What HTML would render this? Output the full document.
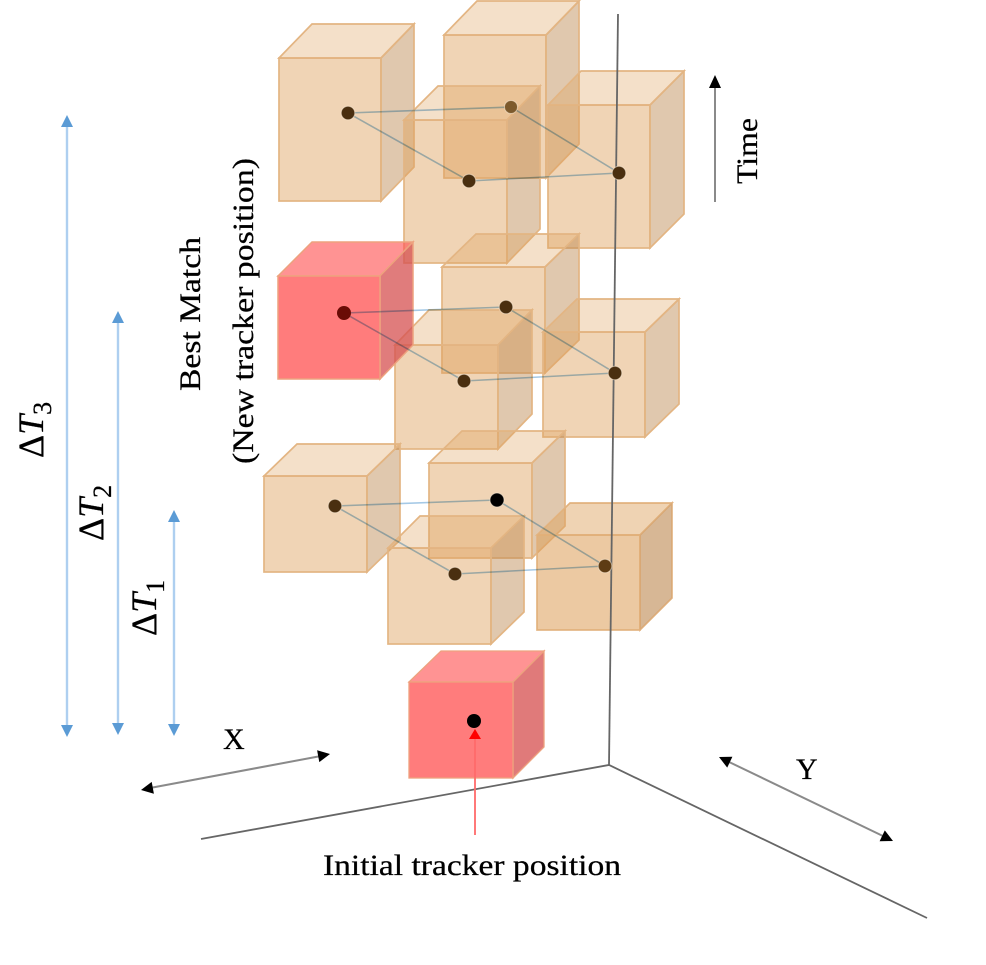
<!DOCTYPE html>
<html>
<head>
<meta charset="utf-8">
<style>
html,body{margin:0;padding:0;background:#fff}
svg{display:block;filter:blur(.35px)}
text{font-family:"Liberation Serif",serif;fill:#000;stroke:#000;stroke-width:.25}
.f{fill:rgba(222,160,90,.45);stroke:#e3b583;stroke-width:1.7}
.t{fill:rgba(222,160,90,.33);stroke:#e3b583;stroke-width:1.7}
.s{fill:rgba(186,133,75,.45);stroke:#e3b583;stroke-width:1.7}
.c{stroke:#a5c9e6;stroke-width:1.6;fill:none;mix-blend-mode:multiply}
.b{stroke:#aecff0;stroke-width:2.4}
.k{stroke:#8a8a8a;stroke-width:2}
.d{stroke:rgba(255,240,220,.55);stroke-width:1}
</style>
</head>
<body>
<svg width="986" height="965" viewBox="0 0 986 965" xmlns="http://www.w3.org/2000/svg">
<!-- top layer cubes -->
<g>
<polygon class="t" points="279,58 312,24 414,24 381,58"/><polygon class="s" points="381,58 414,24 414,167 381,201"/><rect class="f" x="279" y="58" width="102" height="143"/>
<polygon class="t" points="444,35 477,1 579,1 546,35"/><polygon class="s" points="546,35 579,1 579,144 546,178"/><rect class="f" x="444" y="35" width="102" height="143"/>
<polygon class="t" points="548,105 581,71 684,71 650,105"/><polygon class="s" points="650,105 684,71 684,214 650,248"/><rect class="f" x="548" y="105" width="102" height="143"/>
<polygon class="t" points="404,120 438,86 540,86 507,120"/><polygon class="s" points="507,120 540,86 540,229 507,263"/><rect class="f" x="404" y="120" width="103" height="143"/>
</g>
<!-- middle layer cubes -->
<g>
<polygon class="t" points="442,267 476,234 579,234 545,267"/><polygon class="s" points="545,267 579,234 579,340 545,373"/><rect class="f" x="442" y="267" width="103" height="106"/>
<polygon class="t" points="543,332 577,299 679,299 645,332"/><polygon class="s" points="645,332 679,299 679,404 645,437"/><rect class="f" x="543" y="332" width="102" height="105"/>
<polygon class="t" points="395,345 429,310 532,310 498,345"/><polygon class="s" points="498,345 532,310 532,414 498,449"/><rect class="f" x="395" y="345" width="103" height="104"/>
<polygon points="278,276 312,242 413,242 380,276" fill="rgba(255,80,80,.62)" stroke="#eda27e" stroke-width="1.5"/>
<polygon points="380,276 413,242 413,345 380,379" fill="rgba(214,80,80,.75)" stroke="#eda27e" stroke-width="1.5"/>
<rect x="278" y="276" width="102" height="103" fill="#ff7c7c" stroke="#eda27e" stroke-width="1.5"/>
</g>
<!-- bottom layer cubes -->
<g>
<polygon class="t" points="264,476 297,444 400,444 367,476"/><polygon class="s" points="367,476 400,444 400,540 367,572"/><rect class="f" x="264" y="476" width="103" height="96"/>
<polygon class="t" points="429,463 462,431 565,431 532,463"/><polygon class="s" points="532,463 565,431 565,526 532,558"/><rect class="f" x="429" y="463" width="103" height="95"/>
<polygon class="t" points="388,548 420,516 524,516 491,548"/><polygon class="s" points="491,548 524,516 524,612 491,644"/><rect class="f" x="388" y="548" width="103" height="96"/>
<polygon class="t" points="537,535 570,503 672,503 640,535"/><polygon class="s" points="640,535 672,503 672,598 640,630"/><rect class="f" x="537" y="535" width="103" height="95"/>
<polygon points="537,535 570,503 672,503 640,535" fill="rgba(222,160,90,.2)"/>
<polygon points="640,535 672,503 672,598 640,630" fill="rgba(186,133,75,.25)"/>
<rect x="537" y="535" width="103" height="95" fill="rgba(222,160,90,.2)"/>
</g>
<!-- initial red cube -->
<polygon points="409,682 441,651 544,651 513,682" fill="#ff9393" stroke="#eda27e" stroke-width="1.3"/>
<polygon points="513,682 544,651 544,747 513,778" fill="#e07a7a" stroke="#eda27e" stroke-width="1.3"/>
<rect x="409" y="682" width="104" height="96" fill="#ff7c7c" stroke="#eda27e" stroke-width="1.3"/>
<!-- axes -->
<g stroke="#666" stroke-width="1.8" fill="none">
<polyline points="618,14 609,765"/>
<polyline points="201,839 609,765 927,918"/>
</g>
<!-- connectors -->
<polygon class="c" points="348,113 511,107 619,173 469,181"/>
<polygon class="c" points="344,313 506,307 615,373 464,381"/>
<polygon class="c" points="335,506 497,500 605,566 455,574"/>
<!-- dots -->
<g fill="#4a2f10">
<circle class="d" cx="348" cy="113" r="6.8"/><circle class="d" cx="469" cy="181" r="6.8"/><circle class="d" cx="619" cy="173" r="6.8"/>
<circle class="d" cx="511" cy="107" r="6.5" fill="#7d5a2c"/>
<circle cx="344" cy="313" r="7" fill="#6a0c06"/>
<circle class="d" cx="506" cy="307" r="6.8"/><circle class="d" cx="464" cy="381" r="6.8"/><circle class="d" cx="615" cy="373" r="6.8"/>
<circle class="d" cx="335" cy="506" r="6.8"/><circle class="d" cx="497" cy="500" r="7" fill="#000"/><circle class="d" cx="455" cy="574" r="6.8"/><circle class="d" cx="605" cy="566" r="6.8" fill="#5e3c14"/>
</g>
<circle cx="474" cy="721" r="7" fill="#000"/>
<!-- red arrow -->
<line x1="475" y1="835" x2="475" y2="738" stroke="#ff6a6a" stroke-width="1.8"/>
<polygon points="475,729 481,739 469,739" fill="#f00"/>
<!-- delta arrows -->
<line class="b" x1="67" y1="125" x2="67" y2="727"/>
<polygon points="67,115 73,127 61,127" fill="#5b9bd5"/><polygon points="67,737 73,725 61,725" fill="#5b9bd5"/>
<line class="b" x1="118" y1="321" x2="118" y2="725"/>
<polygon points="118,311 124,323 112,323" fill="#5b9bd5"/><polygon points="118,735 124,723 112,723" fill="#5b9bd5"/>
<line class="b" x1="174" y1="520" x2="174" y2="725"/>
<polygon points="174,510 180,522 168,522" fill="#5b9bd5"/><polygon points="174,736 180,724 168,724" fill="#5b9bd5"/>
<!-- black arrows -->
<line class="k" x1="150" y1="788" x2="321" y2="756"/>
<polygon points="141,790 153.9,793.7 151.7,781.9" fill="#000"/><polygon points="330,754 319.3,762.1 317.1,750.3" fill="#000"/>
<line class="k" x1="727" y1="761" x2="885" y2="837"/>
<polygon points="719,757 727.2,767.6 732.4,756.8" fill="#000"/><polygon points="893,841 879.6,841.2 884.8,830.4" fill="#000"/>
<line class="k" x1="715" y1="202" x2="715" y2="85"/>
<polygon points="715,75 721,88 709,88" fill="#000"/>
<!-- labels -->
<text x="323" y="875" font-size="30" textLength="298" lengthAdjust="spacingAndGlyphs">Initial tracker position</text>
<text x="223" y="749" font-size="30">X</text>
<text x="796" y="779" font-size="30">Y</text>
<text transform="translate(757,184) rotate(-90)" font-size="30" textLength="66" lengthAdjust="spacingAndGlyphs">Time</text>
<text transform="translate(200,391) rotate(-90)" font-size="30" textLength="154" lengthAdjust="spacingAndGlyphs">Best Match</text>
<text transform="translate(253,464) rotate(-90)" font-size="30" textLength="306" lengthAdjust="spacingAndGlyphs">(New tracker position)</text>
<text transform="translate(43,458) rotate(-90)" font-size="36">Δ<tspan font-style="italic">T</tspan><tspan font-size="26" dy="8">3</tspan></text>
<text transform="translate(103,541) rotate(-90)" font-size="36">Δ<tspan font-style="italic">T</tspan><tspan font-size="26" dy="8">2</tspan></text>
<text transform="translate(156,636) rotate(-90)" font-size="36">Δ<tspan font-style="italic">T</tspan><tspan font-size="26" dy="8">1</tspan></text>
</svg>
</body>
</html>
